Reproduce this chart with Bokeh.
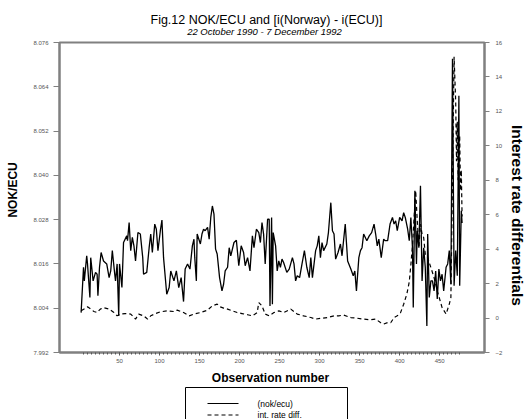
import math
from bokeh.plotting import figure
from bokeh.models import Range1d, LinearAxis, FixedTicker, PrintfTickFormatter
from bokeh.layouts import column, row
from bokeh.embed import file_html
from bokeh.resources import INLINE
from bokeh.core.properties import value

# ---------------- data ----------------
obs_nok = [2, 5, 6, 9, 10, 13, 14, 17, 20, 22, 23, 25, 27, 30, 34, 37, 39, 41, 44, 45,
           47, 49, 50, 53, 55, 59, 60, 62, 64, 66, 68, 70, 73, 76, 79, 80, 84, 87, 89, 91,
           94, 96, 98, 101, 103, 105, 109, 112, 114, 118, 121, 124, 127, 130, 132, 135, 138, 141, 143, 144,
           146, 147, 151, 153, 155, 157, 160, 162, 164, 166, 168, 170, 172, 175, 178, 180, 182, 185, 187, 189,
           193, 196, 199, 202, 205, 207, 210, 213, 216, 218, 221, 224, 226, 228, 230, 232, 235, 237, 238, 240,
           241, 242, 245, 247, 249, 251, 253, 255, 259, 262, 266, 268, 270, 272, 275, 278, 281, 284, 287, 289,
           291, 295, 297, 299, 301, 303, 305, 309, 311, 314, 316, 318, 320, 323, 326, 328, 332, 335, 339, 342,
           344, 346, 349, 351, 353, 355, 359, 362, 365, 368, 370, 372, 374, 377, 380, 382, 385, 388, 391, 393,
           395, 397, 400, 403, 405, 407, 410, 412, 414, 416, 417, 419, 421, 422, 424, 426, 428, 430, 432, 434,
           435, 437, 439, 441, 443, 445, 447, 449, 451, 453, 455, 458, 460, 462, 464, 466, 468, 470, 472, 474,
           475, 477, 478]
nok_ecu = [8.0028, 8.0151, 8.0114, 8.0182, 8.0160, 8.0069, 8.0177, 8.0114, 8.0137, 8.0132,
           8.0074, 8.0151, 8.0191, 8.0168, 8.0160, 8.0123, 8.0141, 8.0196, 8.0132, 8.0114,
           8.0160, 8.0019, 8.0160, 8.0096, 8.0218, 8.0236, 8.0223, 8.0272, 8.0196, 8.0232,
           8.0209, 8.0168, 8.0245, 8.0241, 8.0177, 8.0132, 8.0137, 8.0204, 8.0241, 8.0191,
           8.0268, 8.0254, 8.0196, 8.0250, 8.0279, 8.0177, 8.0078, 8.0096, 8.0141, 8.0114,
           8.0141, 8.0096, 8.0123, 8.0058, 8.0146, 8.0160, 8.0146, 8.0209, 8.0227, 8.0177,
           8.0114, 8.0241, 8.0214, 8.0241, 8.0254, 8.0250, 8.0259, 8.0227, 8.0286, 8.0317,
           8.0295, 8.0200, 8.0187, 8.0123, 8.0087, 8.0105, 8.0141, 8.0151, 8.0204, 8.0182,
           8.0218, 8.0224, 8.0155, 8.0209, 8.0191, 8.0155, 8.0177, 8.0141, 8.0236, 8.0204,
           8.0254, 8.0245, 8.0218, 8.0272, 8.0241, 8.0160, 8.0281, 8.0281, 8.0046, 8.0286,
           8.0051, 8.0245, 8.0209, 8.0141, 8.0168, 8.0151, 8.0173, 8.0164, 8.0137, 8.0146,
           8.0177, 8.0160, 8.0114, 8.0128, 8.0123, 8.0160, 8.0196, 8.0151, 8.0123, 8.0177,
           8.0123, 8.0196, 8.0209, 8.0236, 8.0177, 8.0218, 8.0196, 8.0214, 8.0245, 8.0326,
           8.0250, 8.0241, 8.0173, 8.0191, 8.0214, 8.0182, 8.0268, 8.0168, 8.0146, 8.0128,
           8.0141, 8.0087, 8.0177, 8.0196, 8.0204, 8.0241, 8.0223, 8.0236, 8.0245, 8.0268,
           8.0241, 8.0209, 8.0227, 8.0177, 8.0227, 8.0223, 8.0223, 8.0268, 8.0286, 8.0268,
           8.0277, 8.0250, 8.0286, 8.0277, 8.0299, 8.0286, 8.0254, 8.0223, 8.0286, 8.0204,
           8.0042, 8.0358, 8.0160, 8.0250, 8.0204, 8.0372, 8.0114, 8.0204, 8.0151, 7.9992,
           8.0241, 8.0069, 8.0114, 8.0114, 8.0087, 8.0141, 8.0065, 8.0146, 8.0114, 8.0132,
           8.0087, 8.0151, 8.0160, 8.0196, 8.0105, 8.0716, 8.0101, 8.0196, 8.0128, 8.0616,
           8.0101, 8.0304, 8.0271]

obs_rate = [2, 10, 14, 18, 22, 26, 30, 37, 43, 47, 51, 57, 64, 70, 74, 80, 85, 89, 95, 101,
            110, 118, 122, 130, 137, 143, 151, 160, 166, 172, 176, 180, 185, 191, 197, 203, 210, 216, 222, 224,
            228, 232, 237, 243, 249, 255, 264, 272, 280, 289, 295, 301, 310, 318, 324, 330, 339, 347, 355, 364,
            370, 376, 380, 385, 389, 393, 397, 401, 405, 409, 412, 414, 416, 418, 420, 422, 424, 426, 428, 430,
            432, 435, 439, 443, 447, 453, 458, 462, 464, 466, 468, 470, 471, 472, 473, 475, 476, 477, 478]
rate_diff = [0.42, 0.65, 0.52, 0.38, 0.32, 0.52, 0.61, 0.52, 0.32, 0.13, 0.23, 0.26, 0.23, -0.06, 0.23,
             0.13, -0.06, 0.13, 0.26, 0.36, 0.42, 0.38, 0.46, 0.32, 0.13, 0.23, 0.32, 0.46, 0.71, 0.81,
             0.65, 0.58, 0.52, 0.42, 0.32, 0.26, 0.19, 0.13, 0.32, 0.90, 0.71, 0.23, 0.13, 0.32, 0.42,
             0.32, 0.52, 0.23, 0.13, 0.03, -0.06, -0.02, 0.03, 0.13, 0.13, 0.17, 0.03, -0.01, -0.06, -0.10,
             -0.06, -0.26, -0.35, -0.26, -0.26, 0.03, 0.13, 0.30, 0.80, 1.40, 2.10, 3.10, 4.20, 5.80, 7.39,
             5.65, 4.10, 5.45, 4.87, 4.68, 3.71, 3.51, 2.93, 2.35, 1.58, 0.61, 0.23, 0.81, 1.19, 8.00,
             15.17, 12.60, 9.10, 11.40, 8.00, 10.60, 7.40, 8.60, 5.90]

x_ticks = [50, 100, 150, 200, 250, 300, 350, 400, 450]
x_minor = list(range(5, 480, 5))
nok_ticks = [7.992, 8.004, 8.016, 8.028, 8.040, 8.052, 8.064, 8.076]
rate_ticks = [-2, 0, 2, 4, 6, 8, 10, 12, 14, 16]

title_text = "Fig.12 NOK/ECU and [i(Norway) - i(ECU)]"
subtitle_text = "22 October 1990 - 7 December 1992"
x_title = "Observation number"
y_title = "NOK/ECU"
y2_title = "Interest rate differentials"
legend_labels = ["(nok/ecu)", "int. rate diff."]

# ---------------- styling ----------------
FONT = "Liberation Sans"
GREY = "#808080"
TICK_GREY = "#555555"


def blank(w, h):
    f = figure(width=w, height=h, x_range=Range1d(0, w), y_range=Range1d(0, h),
               output_backend="svg", toolbar_location=None, title=None,
               x_axis_location=None, y_axis_location=None, min_border=0)
    f.grid.visible = False
    f.outline_line_color = None
    return f


# header (y 0..38)
hdr = blank(526, 38)
hdr.text(x=[266], y=[19], text=[title_text], text_font=value(FONT), text_font_size="12.5px",
         text_align="center", text_baseline="alphabetic", text_color="black")
hdr.text(x=[264], y=[7], text=[subtitle_text], text_font=value(FONT), text_font_size="9.5px",
         text_font_style="italic", text_align="center", text_baseline="alphabetic", text_color="black")

# left strip (x 0..30)
lft = blank(30, 328)
lft.text(x=[12.5], y=[172], text=[y_title], text_font=value(FONT), text_font_size="12px",
         text_font_style="bold", angle=math.pi / 2, text_align="center", text_baseline="middle")

# right strip (x 505..526)
rgt = blank(21, 328)
rgt.text(x=[12], y=[145], text=[y2_title], text_font=value(FONT), text_font_size="15.5px",
         text_font_style="bold", angle=-math.pi / 2, text_align="center", text_baseline="middle")

# main chart (x 30..505, y 38..366; frame x 59..484, y 42..352)
p = figure(width=475, height=328, x_range=Range1d(-25, 506), y_range=Range1d(7.992, 8.076),
           output_backend="svg", toolbar_location=None, title=None,
           min_border_left=29, min_border_right=21, min_border_top=4, min_border_bottom=14)
p.extra_y_ranges = {"rate": Range1d(-2, 16)}
p.grid.visible = False
p.outline_line_color = GREY
p.outline_line_width = 2

xa = p.xaxis[0]
xa.ticker = FixedTicker(ticks=x_ticks, minor_ticks=x_minor)
xa.axis_line_color = GREY
xa.axis_line_width = 2
xa.major_tick_in = 0
xa.major_tick_out = 3
xa.minor_tick_in = 0
xa.minor_tick_out = 2
xa.major_tick_line_color = TICK_GREY
xa.minor_tick_line_color = TICK_GREY
xa.major_label_text_font = FONT
xa.major_label_text_font_size = "6px"
xa.major_label_text_color = TICK_GREY
xa.major_label_standoff = 3

ya = p.yaxis[0]
ya.ticker = FixedTicker(ticks=nok_ticks)
ya.formatter = PrintfTickFormatter(format="%.3f")
ya.axis_line_color = GREY
ya.axis_line_width = 2
ya.major_tick_in = 0
ya.major_tick_out = 6
ya.minor_tick_line_color = None
ya.major_tick_line_color = GREY
ya.major_label_text_font = FONT
ya.major_label_text_font_size = "6px"
ya.major_label_text_color = TICK_GREY
ya.major_label_standoff = 5

ra = LinearAxis(y_range_name="rate", ticker=FixedTicker(ticks=rate_ticks))
ra.axis_line_color = GREY
ra.axis_line_width = 2
ra.major_tick_in = 0
ra.major_tick_out = 5
ra.minor_tick_line_color = None
ra.major_tick_line_color = GREY
ra.major_label_text_font = FONT
ra.major_label_text_font_size = "6px"
ra.major_label_text_color = TICK_GREY
ra.major_label_standoff = 6
p.add_layout(ra, "right")

p.line(obs_nok, nok_ecu, line_color="black", line_width=1.3)
p.line(obs_rate, rate_diff, y_range_name="rate", line_color="black", line_width=1.2, line_dash="4 3")

# bottom: x title + legend (y 366..419)
bot = blank(526, 53)
bot.text(x=[270], y=[42], text=[x_title], text_font=value(FONT), text_font_size="12px",
         text_font_style="bold", text_align="center", text_baseline="alphabetic", text_color="black")
bot.quad(left=[185], right=[347], top=[32], bottom=[-5], fill_color=None,
         line_color="black", line_width=1)
bot.line([207, 238], [16, 16], line_color="black", line_width=1.2)
bot.line([207, 238], [4.5, 4.5], line_color="black", line_width=1.2, line_dash="4 3")
bot.text(x=[257, 257], y=[16, 4.5], text=legend_labels, text_font=value(FONT),
         text_font_size="8.5px", text_baseline="middle", text_align="left", text_color="black")

layout = column(hdr, row(lft, p, rgt), bot)
open("out.html", "w").write(file_html(layout, INLINE))
